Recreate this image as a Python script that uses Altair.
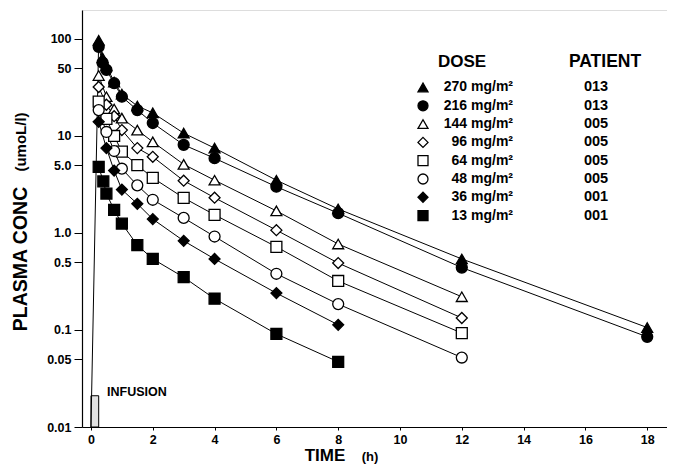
import altair as alt
import pandas as pd

# ---------------- data ----------------
doses = ["270", "216", "144", "96", "64", "48", "36", "13"]
patients = ["013", "013", "005", "005", "005", "005", "001", "001"]
shapes = ["triangle-up", "circle", "triangle-up", "diamond", "square", "circle", "diamond", "square"]
fills = ["black", "black", "white", "white", "white", "white", "black", "black"]

t_270 = [0.25, 0.375, 0.5, 0.75, 1, 1.5, 2, 3, 4, 6, 8, 12, 18]
c_270 = [97, 64, 53, 36, 27, 20.4, 17.3, 10.7, 7.5, 3.5, 1.77, 0.54, 0.106]
t_216 = [0.25, 0.375, 0.5, 0.75, 1, 1.5, 2, 3, 4, 6, 8, 12, 18]
c_216 = [83, 57, 48, 35, 25.4, 18.5, 13.6, 8.1, 5.9, 3.0, 1.6, 0.44, 0.085]
t_144 = [0.25, 0.5, 0.75, 1, 1.5, 2, 3, 4, 6, 8, 12]
c_144 = [42, 25.4, 19, 15.3, 11.5, 8.7, 5.1, 3.5, 1.69, 0.77, 0.22]
t_96 = [0.25, 0.5, 0.75, 1, 1.5, 2, 3, 4, 6, 8, 12]
c_96 = [32, 21, 16, 11.5, 7.5, 6.1, 3.46, 2.31, 1.07, 0.49, 0.133]
t_64 = [0.25, 0.5, 0.75, 1, 1.5, 2, 3, 4, 6, 8, 12]
c_64 = [22.6, 15, 10, 6.9, 5.0, 3.7, 2.3, 1.54, 0.72, 0.32, 0.093]
t_48 = [0.25, 0.5, 0.75, 1, 1.5, 2, 3, 4, 6, 8, 12]
c_48 = [18.5, 11, 7, 4.6, 3.1, 2.2, 1.43, 0.92, 0.38, 0.185, 0.052]
t_36 = [0.25, 0.5, 0.75, 1, 1.5, 2, 3, 4, 6, 8]
c_36 = [14, 7.5, 4.4, 2.8, 2.0, 1.39, 0.83, 0.54, 0.24, 0.113]
t_13 = [0.25, 0.4, 0.5, 0.75, 1, 1.5, 2, 3, 4, 6, 8]
c_13 = [4.8, 3.4, 2.55, 1.73, 1.25, 0.75, 0.54, 0.35, 0.21, 0.091, 0.047]

# start of infusion (rising line) and infusion bar
rise_t = [0, 0.25]
rise_c = [0.01, 97]
infusion_t = [0, 0.25]
infusion_c = [0.01, 0.021]

x_ticks = [0, 2, 4, 6, 8, 10, 12, 14, 16, 18]
y_ticks = [0.01, 0.05, 0.1, 0.5, 1, 5, 10, 50, 100]

series_t = [t_270, t_216, t_144, t_96, t_64, t_48, t_36, t_13]
series_c = [c_270, c_216, c_144, c_96, c_64, c_48, c_36, c_13]

rows = []
for d, ts, cs in zip(doses, series_t, series_c):
    for t, c in zip(ts, cs):
        rows.append({"dose": d, "t": t, "c": c})
df = pd.DataFrame(rows)
rise_df = pd.DataFrame({"t": rise_t, "c": rise_c})
inf_df = pd.DataFrame({"t": [infusion_t[0]], "t2": [infusion_t[1]],
                       "c": [infusion_c[0]], "c2": [infusion_c[1]]})

# ---------------- layout helpers ----------------
XDOM = [-0.29, 18.64]
YDOM = [0.01, 199]
W, H = 585, 417
FONT = "Liberation Sans"


def t_of_px(px):
    return (px - 91) / 30.9


def c_of_py(py):
    return 10 ** (2 - (py - 39) / 97)


xs = alt.Scale(domain=XDOM, nice=False, zero=False)
ys = alt.Scale(type="log", domain=YDOM, nice=False)

X = alt.X("t:Q", scale=xs,
          axis=alt.Axis(values=x_ticks, title=None, grid=False, tickSize=3,
                        labelPadding=3, labelFontSize=12.5, labelFontWeight="bold",
                        labelFont=FONT, labelColor="black", domainColor="black",
                        tickColor="black", domainWidth=1.2, labelFlush=False))
Y = alt.Y("c:Q", scale=ys,
          axis=alt.Axis(values=y_ticks, title=None, grid=False, tickSize=8,
                        labelPadding=3, labelFontSize=12.5, labelFontWeight="bold",
                        labelFont=FONT, labelColor="black", domainColor="black",
                        tickColor="black", domainWidth=1.2, labelFlush=False,
                        labelExpr="datum.value == 1 ? '1.0' : datum.value == 5 ? '5.0' : datum.label"))

lines = alt.Chart(df).mark_line(color="black", strokeWidth=1.0).encode(
    x=X, y=Y, detail="dose:N")

rise = alt.Chart(rise_df).mark_line(color="black", strokeWidth=1.0).encode(
    x=alt.X("t:Q", scale=xs), y=alt.Y("c:Q", scale=ys))

shape_scale = alt.Scale(domain=doses, range=shapes)
fill_scale = alt.Scale(domain=doses, range=fills)

points = alt.Chart(df).mark_point(filled=True, size=120, stroke="black",
                                  strokeWidth=1.3, opacity=1).encode(
    x=alt.X("t:Q", scale=xs), y=alt.Y("c:Q", scale=ys),
    shape=alt.Shape("dose:N", scale=shape_scale, legend=None),
    fill=alt.Fill("dose:N", scale=fill_scale, legend=None))

bar = alt.Chart(inf_df).mark_rect(fill="#e2e2e2", stroke="black", strokeWidth=1).encode(
    x=alt.X("t:Q", scale=xs), x2="t2:Q",
    y=alt.Y("c:Q", scale=ys), y2="c2:Q")

# ---------------- legend ----------------
leg_rows = list(range(len(doses)))
leg = pd.DataFrame({
    "dose": doses,
    "patient": patients,
    "num": doses,
    "unit": ["mg/m²"] * len(doses),
    "c": [c_of_py(87.5 + 18.3 * r) for r in leg_rows],
    "tm": [t_of_px(423)] * len(doses),
    "tn": [t_of_px(467)] * len(doses),
    "tu": [t_of_px(471)] * len(doses),
    "tp": [t_of_px(596)] * len(doses),
})

leg_pts = alt.Chart(leg).mark_point(filled=True, size=100, stroke="black",
                                    strokeWidth=1.3, opacity=1).encode(
    x=alt.X("tm:Q", scale=xs), y=alt.Y("c:Q", scale=ys),
    shape=alt.Shape("dose:N", scale=shape_scale, legend=None),
    fill=alt.Fill("dose:N", scale=fill_scale, legend=None))
leg_num = alt.Chart(leg).mark_text(align="right", baseline="middle", font=FONT,
                                   fontWeight="bold", fontSize=14, color="black").encode(
    x=alt.X("tn:Q", scale=xs), y=alt.Y("c:Q", scale=ys), text="num:N")
leg_unit = alt.Chart(leg).mark_text(align="left", baseline="middle", font=FONT,
                                    fontWeight="bold", fontSize=14, color="black").encode(
    x=alt.X("tu:Q", scale=xs), y=alt.Y("c:Q", scale=ys), text="unit:N")
leg_pat = alt.Chart(leg).mark_text(align="center", baseline="middle", font=FONT,
                                   fontWeight="bold", fontSize=14.5, color="black").encode(
    x=alt.X("tp:Q", scale=xs), y=alt.Y("c:Q", scale=ys), text="patient:N")

one = pd.DataFrame({"a": [0]})


def label(txt, px, py, size, angle=0, align="center"):
    return alt.Chart(one).mark_text(text=txt, font=FONT, fontWeight="bold",
                                    fontSize=size, color="black", angle=angle,
                                    align=align, baseline="middle").encode(
        x=alt.value(px - 82), y=alt.value(py - 10))


annotations = [
    label("DOSE", 462, 62, 17),
    label("PATIENT", 605, 62, 17.5),
    label("INFUSION", 107, 392, 12.5, align="left"),
    label("PLASMA CONC", 21, 259, 19.5, angle=270),
    label("(umoL/l)", 21, 142, 15, angle=270),
    label("TIME", 325, 456, 17),
    label("(h)", 370, 457, 13),
]

chart = alt.layer(bar, rise, lines, points, leg_pts, leg_num, leg_unit, leg_pat,
                  *annotations).properties(
    width=W, height=H,
    autosize=alt.AutoSizeParams(type="none"),
    padding={"left": 74, "top": 2, "right": 0, "bottom": 40},
).configure_view(stroke=None).configure(background="white")

chart.save("out.html", embed_options={"renderer": "svg", "actions": False})
